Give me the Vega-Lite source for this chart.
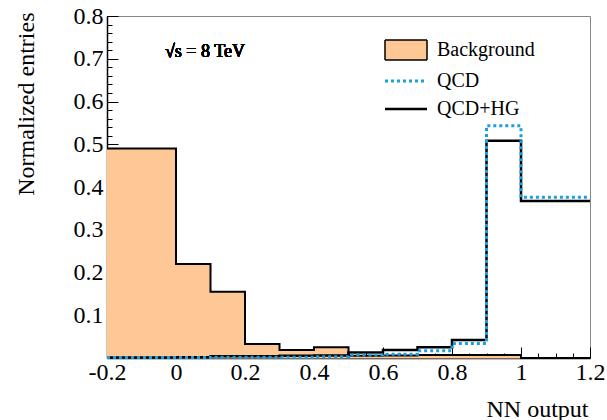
{
  "$schema": "https://vega.github.io/schema/vega-lite/v6.json",
  "width": 483,
  "height": 342,
  "autosize": "none",
  "padding": {"left": 107, "top": 16, "right": 17, "bottom": 62},
  "background": "white",
  "config": {
    "view": {"stroke": "#888888", "strokeWidth": 1},
    "axis": {
      "grid": false,
      "labelFont": "Liberation Serif",
      "labelFontSize": 24,
      "labelColor": "black",
      "titleFont": "Liberation Serif",
      "titleFontSize": 24,
      "titleFontWeight": "normal",
      "titleColor": "black",
      "tickColor": "black",
      "tickWidth": 1,
      "domainColor": "black",
      "domainWidth": 1.5,
      "labelFlush": false,
      "labelOverlap": false
    }
  },
  "datasets": {
    "h": [
      {"lo": -0.2, "hi": -0.1, "bg": 0.49, "qcd": 0.001, "hg": 0.001},
      {"lo": -0.1, "hi": 0.0, "bg": 0.49, "qcd": 0.001, "hg": 0.001},
      {"lo": 0.0, "hi": 0.1, "bg": 0.22, "qcd": 0.001, "hg": 0.002},
      {"lo": 0.1, "hi": 0.2, "bg": 0.155, "qcd": 0.002, "hg": 0.004},
      {"lo": 0.2, "hi": 0.3, "bg": 0.033, "qcd": 0.002, "hg": 0.004},
      {"lo": 0.3, "hi": 0.4, "bg": 0.019, "qcd": 0.002, "hg": 0.005},
      {"lo": 0.4, "hi": 0.5, "bg": 0.025, "qcd": 0.003, "hg": 0.006},
      {"lo": 0.5, "hi": 0.6, "bg": 0.005, "qcd": 0.007, "hg": 0.013},
      {"lo": 0.6, "hi": 0.7, "bg": 0.006, "qcd": 0.009, "hg": 0.019},
      {"lo": 0.7, "hi": 0.8, "bg": 0.007, "qcd": 0.017, "hg": 0.025},
      {"lo": 0.8, "hi": 0.9, "bg": 0.007, "qcd": 0.034, "hg": 0.042},
      {"lo": 0.9, "hi": 1.0, "bg": 0.007, "qcd": 0.543, "hg": 0.508},
      {"lo": 1.0, "hi": 1.1, "bg": 0.0, "qcd": 0.376, "hg": 0.367},
      {"lo": 1.1, "hi": 1.2, "bg": 0.0, "qcd": 0.376, "hg": 0.367},
      {"lo": 1.2, "hi": null, "bg": 0.0, "qcd": 0.376, "hg": 0.367}
    ]
  },
  "data": {"name": "h"},
  "layer": [
    {
      "transform": [{"filter": "datum.hi != null"}],
      "mark": {"type": "rect", "fill": "#fdc896", "stroke": "#fdc896", "strokeWidth": 1},
      "encoding": {
        "x": {
          "field": "lo", "type": "quantitative",
          "scale": {"domain": [-0.2, 1.2], "nice": false, "zero": false},
          "axis": {
            "orient": "bottom",
            "values": [-0.2, 0, 0.2, 0.4, 0.6, 0.8, 1, 1.2],
            "tickSize": -11,
            "labelPadding": 13,
            "labelExpr": "replace(format(datum.value, '.1~f'), '\u2212', '-')",
            "title": "NN output",
            "titleX": 481,
            "titleY": 58,
            "titleAlign": "right",
            "titleBaseline": "alphabetic"
          }
        },
        "x2": {"field": "hi"},
        "y": {
          "field": "bg", "type": "quantitative",
          "scale": {"domain": [0, 0.8], "nice": false},
          "axis": {
            "orient": "left",
            "values": [0.1, 0.2, 0.3, 0.4, 0.5, 0.6, 0.7, 0.8],
            "format": ".1f",
            "tickSize": -11,
            "labelPadding": 15,
            "title": "Normalized entries",
            "titleX": -74,
            "titleY": -4,
            "titleAngle": -90,
            "titleAlign": "right",
            "titleBaseline": "alphabetic"
          }
        },
        "y2": {"datum": 0}
      }
    },
    {
      "mark": {"type": "line", "interpolate": "step-after", "strokeWidth": 2},
      "encoding": {
        "x": {
          "field": "lo", "type": "quantitative",
          "axis": {
            "orient": "bottom",
            "values": [-0.2, -0.15, -0.1, -0.05, 0, 0.05, 0.1, 0.15, 0.2, 0.25, 0.3, 0.35, 0.4, 0.45, 0.5, 0.55, 0.6, 0.65, 0.7, 0.75, 0.8, 0.85, 0.9, 0.95, 1, 1.05, 1.1, 1.15, 1.2],
            "tickSize": -5,
            "labels": false,
            "domain": false,
            "title": null
          }
        },
        "y": {
          "field": "bg", "type": "quantitative",
          "axis": {
            "orient": "left",
            "values": [0, 0.02, 0.04, 0.06, 0.08, 0.1, 0.12, 0.14, 0.16, 0.18, 0.2, 0.22, 0.24, 0.26, 0.28, 0.3, 0.32, 0.34, 0.36, 0.38, 0.4, 0.42, 0.44, 0.46, 0.48, 0.5, 0.52, 0.54, 0.56, 0.58, 0.6, 0.62, 0.64, 0.66, 0.68, 0.7, 0.72, 0.74, 0.76, 0.78, 0.8],
            "tickSize": -5,
            "labels": false,
            "domain": false,
            "title": null
          }
        },
        "color": {
          "datum": "Background",
          "scale": {"domain": ["Background", "QCD", "QCD+HG"], "range": ["black", "#1a9fe6", "black"]},
          "legend": {
            "orient": "none",
            "legendX": 289,
            "legendY": 24,
            "title": null,
            "padding": 0,
            "symbolSize": 400,
            "labelOffset": 21,
            "rowPadding": 8,
            "labelFont": "Liberation Serif",
            "labelFontSize": 20,
            "labelColor": "black",
            "labelLimit": 300,
            "encode": {
              "symbols": {
                "update": {
                  "shape": {"signal": "datum.value === 'Background' ? 'M-2.1,-1H2.1V1H-2.1Z' : 'M-2.1,0H2.1'"},
                  "fill": {"signal": "datum.value === 'Background' ? '#fdc896' : 'transparent'"},
                  "stroke": {"signal": "datum.value === 'QCD' ? '#1a9fe6' : 'black'"},
                  "strokeDash": {"signal": "datum.value === 'QCD' ? [3, 3] : [1, 0]"},
                  "strokeWidth": {"signal": "datum.value === 'QCD' ? 3 : (datum.value === 'Background' ? 1.5 : 2.5)"},
                  "opacity": {"value": 1}
                }
              }
            }
          }
        }
      }
    },
    {
      "mark": {"type": "line", "interpolate": "step-after", "strokeWidth": 2.5},
      "encoding": {
        "x": {"field": "lo", "type": "quantitative", "axis": null},
        "y": {"field": "hg", "type": "quantitative", "axis": null},
        "color": {"datum": "QCD+HG"}
      }
    },
    {
      "mark": {"type": "line", "interpolate": "step-after", "strokeWidth": 3, "strokeDash": [3, 3]},
      "encoding": {
        "x": {"field": "lo", "type": "quantitative", "axis": null},
        "y": {"field": "qcd", "type": "quantitative", "axis": null},
        "color": {"datum": "QCD"}
      }
    },
    {
      "mark": {"type": "text", "text": "\u221as = 8 TeV", "font": "Liberation Serif", "fontSize": 18, "fontWeight": 400, "fontStyle": "normal", "align": "left", "baseline": "alphabetic", "fill": "black", "strokeWidth": 0},
      "encoding": {
        "x": {"datum": -0.032, "type": "quantitative", "axis": null},
        "y": {"datum": 0.704, "type": "quantitative", "axis": null}
      }
    }
  ],
  "resolve": {"axis": {"x": "independent", "y": "independent"}}
}
